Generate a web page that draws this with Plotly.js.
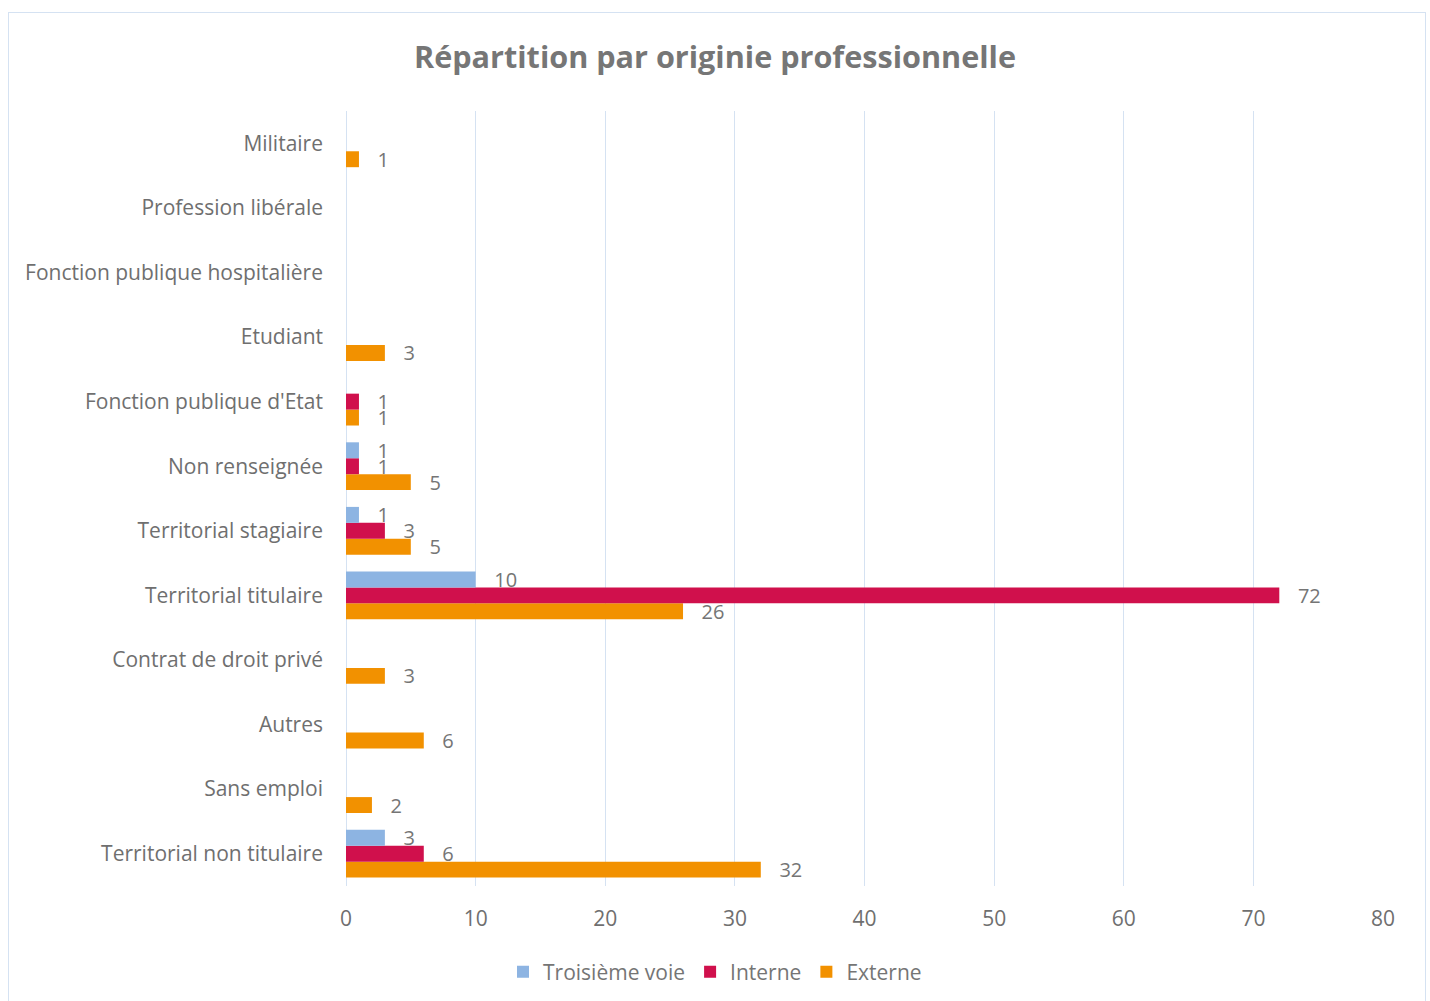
<!DOCTYPE html>
<html>
<head>
<meta charset="utf-8">
<script src="https://cdn.plot.ly/plotly-3.0.1.min.js"></script>
<style>
  html, body { margin: 0; padding: 0; background: #fff; }
  #chart { position: absolute; left: 0; top: 0; width: 1430px; height: 1001px; }
  #frame { position: absolute; left: 8px; top: 12px; width: 1416px; height: 1000px;
           border: 1px solid #d5e2f2; border-bottom: none; pointer-events: none; }
</style>
</head>
<body>
<div id="chart"></div>
<div id="frame"></div>
<script>
// Categories listed bottom to top (as drawn on the y axis)
const categories = [
  "Territorial non titulaire",
  "Sans emploi",
  "Autres",
  "Contrat de droit privé",
  "Territorial titulaire",
  "Territorial stagiaire",
  "Non renseignée",
  "Fonction publique d'Etat",
  "Etudiant",
  "Fonction publique hospitalière",
  "Profession libérale",
  "Militaire"
];
const troisiemeVoie = [3, null, null, null, 10, 1, 1, null, null, null, null, null];
const interne       = [6, null, null, null, 72, 3, 1, 1, null, null, null, null];
const externe       = [32, 2, 6, 3, 26, 5, 5, 1, 3, null, null, 1];
const xTicks = [0, 10, 20, 30, 40, 50, 60, 70, 80];

const FONT = "'Open Sans', sans-serif";
const TEXT = "#6f6f6f";
const LABEL = "#757575";

function series(name, values, color) {
  return {
    type: "bar",
    orientation: "h",
    name: name,
    y: categories,
    x: values,
    marker: { color: color },
    text: values.map(v => v == null ? "" : String(v)),
    texttemplate: "   %{text}",
    textposition: "outside",
    constraintext: "none",
    cliponaxis: false,
    textfont: { family: FONT, size: 20, color: LABEL },
    hoverinfo: "x+y+name"
  };
}

const data = [
  series("Externe", externe, "#F29100"),
  series("Interne", interne, "#D0104C"),
  series("Troisième voie", troisiemeVoie, "#8DB4E2")
];

const layout = {
  width: 1430,
  height: 1001,
  margin: { l: 346, r: 47, t: 111, b: 115 },
  paper_bgcolor: "#ffffff",
  plot_bgcolor: "#ffffff",
  font: { family: FONT, size: 21, color: TEXT },
  title: {
    text: "<b>Répartition par originie professionnelle</b>",
    font: { family: FONT, size: 30.6, color: "#767676" },
    x: 0.5, xanchor: "center",
    y: 1 - 57 / 1001, yanchor: "middle",
    xref: "container", yref: "container"
  },
  barmode: "group",
  bargap: 0.26,
  bargroupgap: 0,
  xaxis: {
    range: [0, 80],
    tickvals: xTicks,
    ticktext: xTicks.map(String),
    showgrid: true,
    gridcolor: "#d5e2f2",
    gridwidth: 1,
    zeroline: true,
    zerolinecolor: "#d5e2f2",
    zerolinewidth: 1,
    showline: false,
    ticks: "",
    ticklabelstandoff: 18,
    tickfont: { family: FONT, size: 21, color: TEXT },
    fixedrange: true
  },
  yaxis: {
    type: "category",
    categoryorder: "array",
    categoryarray: categories,
    showgrid: false,
    zeroline: false,
    showline: false,
    ticks: "",
    ticklabelstandoff: 22,
    tickfont: { family: FONT, size: 21, color: TEXT },
    fixedrange: true
  },
  legend: {
    orientation: "h",
    traceorder: "reversed",
    xref: "container",
    x: 0.5, xanchor: "center",
    yref: "container",
    y: 1 - 972 / 1001, yanchor: "middle",
    font: { family: FONT, size: 21, color: LABEL },
    itemwidth: 30,
    tracegroupgap: 0
  },
  showlegend: true
};

Plotly.newPlot("chart", data, layout, { displayModeBar: false, staticPlot: true });
</script>
</body>
</html>
